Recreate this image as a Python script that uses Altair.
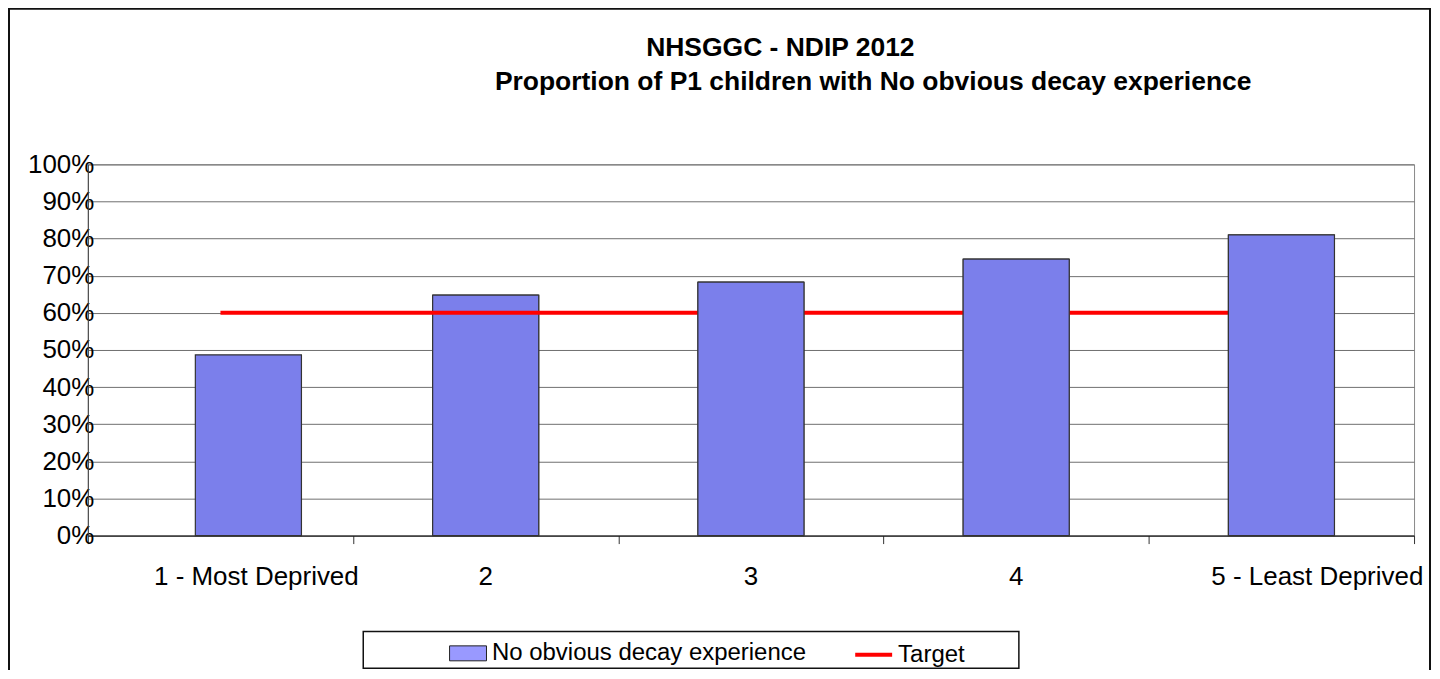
import altair as alt
import pandas as pd

categories = ["1 - Most Deprived", "2", "3", "4", "5 - Least Deprived"]
values = [0.487, 0.648, 0.683, 0.745, 0.810]
target = [0.60, 0.60, 0.60, 0.60, 0.60]
tick_values = [0.0, 0.1, 0.2, 0.3, 0.4, 0.5, 0.6, 0.7, 0.8, 0.9, 1.0]
series_names = ["No obvious decay experience", "Target"]
title_lines = ["NHSGGC - NDIP 2012", "Proportion of P1 children with No obvious decay experience"]

df = pd.DataFrame({"cat": categories, "value": values, "target": target})
one = pd.DataFrame({"a": [0]})

FONT = "Liberation Sans"
W, H = 1329, 372

xscale = alt.Scale(domain=categories, paddingInner=0, paddingOuter=0)
yscale = alt.Scale(domain=[0, 1], nice=False)

xaxis = alt.Axis(
    title=None, labels=False, tickBand="extent", tickSize=8, tickColor="#333",
    tickWidth=1, domainColor="#111", domainWidth=1, grid=False,
)
yaxis = alt.Axis(
    title=None, values=tick_values, format=".0%", labelFont=FONT, labelFontSize=26,
    labelColor="black", labelPadding=-6, ticks=False, domainColor="#444", domainWidth=1,
    grid=True, gridColor="#6f6f6f", gridWidth=1,
)

X = alt.X("cat:N", scale=xscale, axis=xaxis, sort=categories)
Y = alt.Y("value:Q", scale=yscale, axis=yaxis)

base = alt.Chart(df)
BAR_W = alt.RelativeBandSize(band=0.4)

# outer frame and legend box
frame = alt.Chart(one).mark_rect(fillOpacity=0, stroke="#111", strokeWidth=2).encode(
    x=alt.value(-79), x2=alt.value(1345), y=alt.value(-156), y2=alt.value(700)
)
legend_box = alt.Chart(one).mark_rect(fillOpacity=0, stroke="#111", strokeWidth=1.5).encode(
    x=alt.value(276), x2=alt.value(933), y=alt.value(468), y2=alt.value(505)
)

title1 = alt.Chart(pd.DataFrame({"t": [title_lines[0]]})).mark_text(
    font=FONT, fontSize=26.5, fontWeight="bold", color="black", align="center", baseline="alphabetic"
).encode(text="t:N", x=alt.value(694), y=alt.value(-109))
title2 = alt.Chart(pd.DataFrame({"t": [title_lines[1]]})).mark_text(
    font=FONT, fontSize=26.5, fontWeight="bold", color="black", align="center", baseline="alphabetic"
).encode(text="t:N", x=alt.value(787), y=alt.value(-75))

# category labels under the axis
lab_style = dict(font=FONT, fontSize=26, color="black", align="center", baseline="alphabetic")
labels_short = base.transform_filter(
    alt.FieldOneOfPredicate(field="cat", oneOf=categories[1:4])
).mark_text(**lab_style).encode(x=X, y=alt.value(422), text="cat:N")
labels_long = base.transform_filter(
    alt.FieldOneOfPredicate(field="cat", oneOf=[categories[0], categories[4]])
).mark_text(dx=36, **lab_style).encode(x=X, y=alt.value(422), text="cat:N")

rect_symbol = "M-1,-0.405L1,-0.405L1,0.405L-1,0.405Z"

legend_bars = base.transform_filter(
    alt.FieldOneOfPredicate(field="cat", oneOf=categories[1:])
).transform_calculate(
    series=f"'{series_names[0]}'"
).mark_bar(stroke="#333", strokeWidth=1, width=BAR_W).encode(
    x=X, y=Y,
    fill=alt.Fill(
        "series:N",
        scale=alt.Scale(domain=[series_names[0]], range=["#9999ff"]),
        legend=alt.Legend(
            title=None, orient="none", legendX=362, legendY=471, padding=0,
            symbolType=rect_symbol, symbolSize=1369, symbolStrokeColor="#222",
            symbolStrokeWidth=1, symbolOpacity=1, labelFont=FONT, labelFontSize=24,
            labelColor="black", labelOffset=5, labelLimit=600,
        ),
    ),
)

bar_style = dict(color="#7b7feb", stroke="#333", strokeWidth=1.2, width=BAR_W)

bar1 = base.transform_filter(
    alt.FieldEqualPredicate(field="cat", equal=categories[0])
).mark_bar(xOffset=28, **bar_style).encode(x=X, y=Y)

bar2 = base.transform_filter(
    alt.FieldEqualPredicate(field="cat", equal=categories[1])
).mark_bar(**bar_style).encode(x=X, y=Y)

line = base.transform_calculate(
    series=f"'{series_names[1]}'"
).mark_line(strokeWidth=4).encode(
    x=X,
    y=alt.Y("target:Q", scale=yscale, axis=yaxis),
    stroke=alt.Stroke(
        "series:N",
        scale=alt.Scale(domain=[series_names[1]], range=["#ff0000"]),
        legend=alt.Legend(
            title=None, orient="none", legendX=767, legendY=471, padding=0,
            symbolSize=1369, symbolStrokeWidth=4, labelFont=FONT, labelFontSize=24,
            labelColor="black", labelOffset=4,
        ),
    ),
)

bars_rest = base.transform_filter(
    alt.FieldOneOfPredicate(field="cat", oneOf=categories[2:])
).mark_bar(**bar_style).encode(x=X, y=Y)

chart = alt.layer(
    frame, legend_box, title1, title2, labels_short, labels_long,
    legend_bars, bar1, bar2, line, bars_rest
).resolve_scale(fill="independent", stroke="independent").properties(
    width=W, height=H,
    autosize=alt.AutoSizeParams(type="none"),
    padding={"left": 80, "top": 156, "right": 18, "bottom": 134},
    background="white",
).configure_view(stroke="#8a8a8a", strokeWidth=1)

chart.save("out.html", embed_options={"renderer": "svg", "actions": False})
